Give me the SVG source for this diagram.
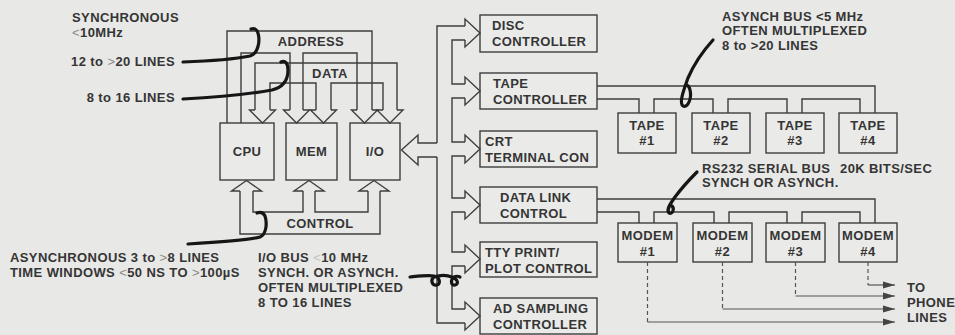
<svg xmlns="http://www.w3.org/2000/svg" width="955" height="335" viewBox="0 0 955 335">
<style>
  .bg{fill:#e8e8e6}
  .box{fill:#eaeae8;stroke:#3e3e3e;stroke-width:1.4}
  .ln{fill:none;stroke:#3e3e3e;stroke-width:1.4;stroke-linejoin:miter}
  .dash{fill:none;stroke:#555;stroke-width:1.2;stroke-dasharray:4 3}
  .ph{fill:none;stroke:#555;stroke-width:1.2}
  .ptr{fill:none;stroke:#161616;stroke-width:3.2;stroke-linecap:round;stroke-linejoin:round}
  text{font-family:"Liberation Sans",Arial,Helvetica,sans-serif;font-weight:bold;font-size:13px;letter-spacing:0.4px;fill:#353535}
  .c{text-anchor:middle}
  .e{text-anchor:end}
  .sym{font-weight:normal;fill:#8a8a8a}
  .faint{font-weight:normal;fill:#c4c4c4}
</style>
<defs>
  <marker id="ah" viewBox="0 0 12 8" refX="12" refY="4" markerWidth="12" markerHeight="8" markerUnits="userSpaceOnUse" orient="auto">
    <path d="M0,0.5 L12,4 L0,7.5 Z" fill="#444"/>
  </marker>
</defs>
<rect class="bg" x="0" y="0" width="955" height="335"/>

<!-- nodes -->
<g id="cpu"><rect class="box" x="220" y="123" width="54" height="57"/><text class="c" x="247" y="156">CPU</text></g>
<g id="mem"><rect class="box" x="286" y="123" width="51" height="57"/><text class="c" x="311.5" y="156">MEM</text></g>
<g id="io"><rect class="box" x="350" y="123" width="50" height="57"/><text class="c" x="375" y="156">I/O</text></g>

<g id="disc-controller"><rect class="box" x="480" y="15" width="117" height="37"/><text x="492" y="30">DISC</text><text x="492" y="46">CONTROLLER</text></g>
<g id="tape-controller"><rect class="box" x="480" y="73" width="117" height="36"/><text x="493" y="88">TAPE</text><text x="493" y="104">CONTROLLER</text></g>
<g id="crt-terminal"><rect class="box" x="480" y="131" width="117" height="36"/><text x="485" y="146">CRT</text><text x="485" y="162">TERMINAL CON</text></g>
<g id="data-link"><rect class="box" x="480" y="187" width="117" height="36"/><text x="500" y="202">DATA LINK</text><text x="500" y="218">CONTROL</text></g>
<g id="tty-print"><rect class="box" x="480" y="242" width="117" height="35"/><text x="485" y="257">TTY PRINT/</text><text x="485" y="273">PLOT CONTROL</text></g>
<g id="ad-sampling"><rect class="box" x="480" y="298" width="117" height="36"/><text x="493" y="313">AD SAMPLING</text><text x="493" y="329">CONTROLLER</text></g>

<g id="tape1"><rect class="box" x="618" y="113" width="58" height="40"/><text class="c" x="647" y="130">TAPE</text><text class="c" x="647" y="145">#1</text></g>
<g id="tape2"><rect class="box" x="692" y="113" width="58" height="40"/><text class="c" x="721" y="130">TAPE</text><text class="c" x="721" y="145">#2</text></g>
<g id="tape3"><rect class="box" x="766" y="113" width="58" height="40"/><text class="c" x="795" y="130">TAPE</text><text class="c" x="795" y="145">#3</text></g>
<g id="tape4"><rect class="box" x="839" y="113" width="58" height="40"/><text class="c" x="868" y="130">TAPE</text><text class="c" x="868" y="145">#4</text></g>

<g id="modem1"><rect class="box" x="618" y="223" width="59" height="39"/><text class="c" x="647.5" y="240">MODEM</text><text class="c" x="647.5" y="256">#1</text></g>
<g id="modem2"><rect class="box" x="693" y="223" width="59" height="39"/><text class="c" x="722.5" y="240">MODEM</text><text class="c" x="722.5" y="256">#2</text></g>
<g id="modem3"><rect class="box" x="766" y="223" width="59" height="39"/><text class="c" x="795.5" y="240">MODEM</text><text class="c" x="795.5" y="256">#3</text></g>
<g id="modem4"><rect class="box" x="839" y="223" width="58" height="39"/><text class="c" x="868" y="240">MODEM</text><text class="c" x="868" y="256">#4</text></g>

<!-- connectors -->
<g id="connectors">
  <!-- address bus -->
  <path class="ln" d="M227,123 V31 H372 V110"/>
  <path class="ln" d="M241,123 V53 H290 V110"/>
  <path class="ln" d="M303,110 V53 H357 V110"/>
  <!-- data bus -->
  <path class="ln" d="M255,110 V63 H397 V110"/>
  <path class="ln" d="M270,110 V83 H316 V110"/>
  <path class="ln" d="M331,110 V83 H383 V110"/>
  <!-- top arrowheads -->
  <path class="ln" d="M255,110 H249.5 L262.5,123 L275.5,110 H270"/>
  <path class="ln" d="M290,110 H283.5 L296.5,123 L309.5,110 H303"/>
  <path class="ln" d="M316,110 H310.5 L323.5,123 L336.5,110 H331"/>
  <path class="ln" d="M357,110 H351.5 L364.5,123 L377.5,110 H372"/>
  <path class="ln" d="M383,110 H377 L390,123 L403,110 H397"/>
  <!-- control bus -->
  <path class="ln" d="M240,191 H231.5 L246.5,180.5 L261.5,191 H253"/>
  <path class="ln" d="M303,191 H294 L309,180.5 L324,191 H315"/>
  <path class="ln" d="M368,191 H359 L374,180.5 L389,191 H380"/>
  <path class="ln" d="M240,191 V234 H380 V191"/>
  <path class="ln" d="M253,191 V212 H303 V191"/>
  <path class="ln" d="M315,191 V212 H368 V191"/>
  <!-- I/O bus -->
  <path class="ln" d="M437,143 H418 V135 L401.5,150 L418,165 V157 H437"/>
  <path class="ln" d="M437,143 V26 H465"/>
  <path class="ln" d="M437,157 V323 H465"/>
  <path class="ln" d="M465,40 H452 V84 H465"/>
  <path class="ln" d="M465,98 H452 V142 H465"/>
  <path class="ln" d="M465,156 H452 V198 H465"/>
  <path class="ln" d="M465,212 H452 V252 H465"/>
  <path class="ln" d="M465,266 H452 V309 H465"/>
  <path class="ln" d="M465,26 V19 L480,33 L465,47 V40"/>
  <path class="ln" d="M465,84 V77 L480,91 L465,105 V98"/>
  <path class="ln" d="M465,142 V135 L480,149 L465,163 V156"/>
  <path class="ln" d="M465,198 V191 L480,205 L465,219 V212"/>
  <path class="ln" d="M465,252 V245 L480,259 L465,273 V266"/>
  <path class="ln" d="M465,309 V302 L480,316 L465,330 V323"/>
  <!-- tape bus -->
  <path class="ln" d="M597,86 H875 V113"/>
  <path class="ln" d="M597,99 H639 V113"/>
  <path class="ln" d="M654,113 V99 H713 V113"/>
  <path class="ln" d="M728,113 V99 H787 V113"/>
  <path class="ln" d="M802,113 V99 H860 V113"/>
  <!-- RS232 bus -->
  <path class="ln" d="M597,199 H875 V223"/>
  <path class="ln" d="M597,212 H639 V223"/>
  <path class="ln" d="M654,223 V212 H714 V223"/>
  <path class="ln" d="M729,223 V212 H787 V223"/>
  <path class="ln" d="M802,223 V212 H860 V223"/>
  <!-- phone lines -->
  <path class="dash" d="M647.5,262 V322"/>
  <path class="dash" d="M722.5,262 V309"/>
  <path class="dash" d="M795.5,262 V296"/>
  <path class="dash" d="M868,262 V285"/>
  <path class="ph" d="M647.5,322 H895" marker-end="url(#ah)"/>
  <path class="ph" d="M722.5,309 H895" marker-end="url(#ah)"/>
  <path class="ph" d="M795.5,296 H895" marker-end="url(#ah)"/>
  <path class="ph" d="M868,285 H895" marker-end="url(#ah)"/>
</g>

<!-- bus labels -->
<g id="bus-labels">
  <text class="c" x="311" y="46">ADDRESS</text>
  <text class="c" x="330" y="78">DATA</text>
  <text class="c" x="320" y="228">CONTROL</text>
</g>

<!-- pointers -->
<g id="pointers">
  <path class="ptr" d="M183,62 C210,61 235,59 250,56 C259,53 260,40 258,33 C257,29 254,28 251,29"/>
  <path class="ptr" d="M183,99 C220,97 255,93 272,90 C284,87 288,80 288,70 C288,63 285,60 281,62"/>
  <path class="ptr" d="M188,244 C220,242 250,240 260,237 C267,234 267,222 265,216 C263,212 260,212 257,213"/>
  <path class="ptr" d="M410,277 C420,276 428,275 434,276 C440,277 441,284 437,285 C432,286 430,280 434,277 C440,275 447,275 452,277 C458,279 459,284 455,285 C451,286 450,280 454,277 C456,276 458,276 460,277"/>
  <path class="ptr" d="M713,40 C703,51 694,64 688,78 C683,92 679,103 683,106 C688,108 692,98 690,90 C689,86 687,84 685,86"/>
  <path class="ptr" d="M697,172 C689,180 681,189 675,197 C670,204 666,210 669,213 C672,215 675,209 672,206"/>
</g>

<!-- annotation texts -->
<g id="annotations">
  <text x="72" y="22">SYNCHRONOUS</text>
  <text x="72" y="37"><tspan class="sym">&lt;</tspan>10MHz</text>
  <text class="e" x="175" y="66">12 to <tspan class="sym">&gt;</tspan>20 LINES</text>
  <text class="e" x="175" y="102">8 to 16 LINES</text>
  <text x="10" y="262">ASYNCHRONOUS 3 to <tspan class="sym">&gt;</tspan>8 LINES</text>
  <text x="10" y="277">TIME WINDOWS <tspan class="sym">&lt;</tspan>50 NS TO <tspan class="sym">&gt;</tspan>100µS</text>
  <text x="258" y="262">I/O BUS <tspan class="faint">&lt;</tspan>10 MHz</text>
  <text x="258" y="277">SYNCH. OR ASYNCH.</text>
  <text x="258" y="292">OFTEN MULTIPLEXED</text>
  <text x="258" y="307">8 TO 16 LINES</text>
  <text x="722" y="21">ASYNCH BUS &lt;5 MHz</text>
  <text x="722" y="35">OFTEN MULTIPLEXED</text>
  <text x="722" y="50">8 to &gt;20 LINES</text>
  <text x="702" y="173">RS232 SERIAL BUS<tspan x="840">20K BITS/SEC</tspan></text>
  <text x="702" y="187">SYNCH OR ASYNCH.</text>
  <text x="907" y="292">TO</text>
  <text x="907" y="307">PHONE</text>
  <text x="907" y="322">LINES</text>
</g>
</svg>
